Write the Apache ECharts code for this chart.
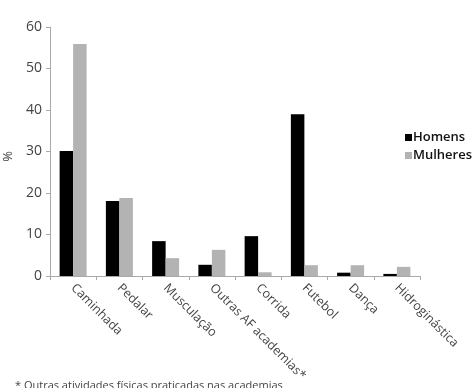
<!DOCTYPE html>
<html><head><meta charset="utf-8">
<script src="https://cdn.jsdelivr.net/npm/echarts@6/dist/echarts.min.js"></script>
<style>html,body{margin:0;padding:0;background:#fff}#c{width:474px;height:388px}</style>
</head><body><div id="c"></div>
<script>
const categories = ["Caminhada","Pedalar","Musculação","Outras AF academias*","Corrida","Futebol","Dança","Hidroginástica"];
const homens = [30.1, 18.1, 8.4, 2.7, 9.6, 39.0, 0.8, 0.5];
const mulheres = [55.9, 18.8, 4.3, 6.3, 0.9, 2.6, 2.6, 2.2];
const yTicks = [0, 10, 20, 30, 40, 50, 60];
const footnote = "* Outras atividades físicas praticadas nas academias";

const chart = echarts.init(document.getElementById('c'));
const font = '"Open Sans", "DejaVu Sans", sans-serif';
chart.setOption({
  animation: false,
  textStyle: { fontFamily: font },
  title: {
    text: footnote, left: 10, top: 375,
    textStyle: { fontSize: 11, fontWeight: 'normal', color: '#444', fontFamily: font }
  },
  legend: {
    orient: 'vertical', left: 400, top: 126,
    itemWidth: 7, itemHeight: 7, itemGap: 5, icon: 'rect',
    textStyle: { fontSize: 13, fontWeight: 600, color: '#111', fontFamily: font, padding: [0, 0, 0, -4] },
    data: ['Homens', 'Mulheres']
  },
  grid: { left: 50, right: 54, top: 27, bottom: 112, containLabel: false, outerBoundsMode: 'none' },
  xAxis: {
    type: 'category', data: categories,
    axisLine: { lineStyle: { color: '#aaa' } },
    axisTick: { show: true, length: 4, lineStyle: { color: '#aaa' } },
    axisLabel: { rotate: -45, fontSize: 12.5, color: '#444', margin: 10, interval: 0, fontFamily: font }
  },
  yAxis: {
    type: 'value', min: yTicks[0], max: yTicks[yTicks.length - 1], interval: 10,
    name: '%', nameLocation: 'middle', nameGap: 28, nameRotate: 90,
    nameTextStyle: { fontSize: 13, color: '#444', fontFamily: font, padding: [0, 0, 0, -10] },
    axisLine: { show: true, lineStyle: { color: '#aaa' } },
    axisTick: { show: true, length: 4, lineStyle: { color: '#aaa' } },
    splitLine: { show: false },
    axisLabel: { fontSize: 14, color: '#444', margin: 8, fontFamily: font }
  },
  series: [
    { name: 'Homens', type: 'bar', data: homens, barWidth: 13.5, barGap: '0%', itemStyle: { color: '#000' } },
    { name: 'Mulheres', type: 'bar', data: mulheres, barWidth: 13.5, barGap: '0%', itemStyle: { color: '#b3b3b3' } }
  ]
});
</script></body></html>
